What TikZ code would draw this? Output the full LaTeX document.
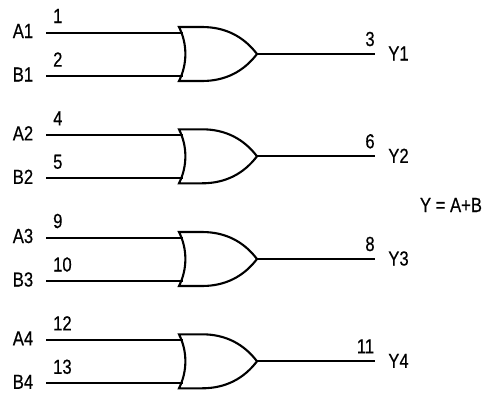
\documentclass[tikz,border=0pt]{standalone}
\usepackage{fontspec}
\setmainfont{Liberation Sans}
\newfontfamily\sigfont[FakeBold=0.5]{Liberation Sans}
\tikzset{
  wire/.style={line width=2.1pt},
  gateshape/.style={line width=2.1pt,line join=miter},
  sig/.style={font=\sigfont\fontsize{18.5}{20}\selectfont,inner sep=0pt,xscale=.9,yscale=1.1},
  pinno/.style={font=\sigfont\fontsize{18.5}{20}\selectfont,inner sep=0pt,xscale=.9,yscale=1.1},
}
\newcommand{\orgate}[9]{%
  % #1 name suffix, #2 y of top of gate, #3 A text, #4 B text, #5 Y text, #6-#8 pin numbers, #9 x of output pin number
  \begin{scope}[shift={(0,#2)}]
    \coordinate (ai#1) at (46,5.8);
    \coordinate (bi#1) at (46,48.8);
    \coordinate (ag#1) at (183,5.8);
    \coordinate (bg#1) at (183,48.8);
    \coordinate (og#1) at (257,27);
    \coordinate (oe#1) at (375,27);
    \draw[gateshape] (179,0) .. controls (187.5,17) and (187.5,37) .. (179,54)
      -- (202,54) .. controls (226,54) and (244,44) .. (og#1)
      .. controls (244,10) and (226,0) .. (202,0) -- cycle;
    \draw[wire] (ai#1) -- (ag#1);
    \draw[wire] (bi#1) -- (bg#1);
    \draw[wire] (og#1) -- (oe#1);
    \node[sig] (la#1) at (23,4) {#3};
    \node[sig] (lb#1) at (23,47.5) {#4};
    \node[sig] (ly#1) at (398.5,26.5) {#5};
    \node[pinno,anchor=west] (pa#1) at (53,-11) {#6};
    \node[pinno,anchor=west] (pb#1) at (53,32.5) {#7};
    \node[pinno] (py#1) at (#9,12) {#8};
  \end{scope}}
\begin{document}
\begin{tikzpicture}[x=1pt,y=-1pt]
\useasboundingbox (0,0) rectangle (487,397);
\fill[white] (0,0) rectangle (487,397);
\orgate{1}{27}{A1}{B1}{Y1}{1}{2}{3}{370}
\orgate{2}{129.3}{A2}{B2}{Y2}{4}{5}{6}{370}
\orgate{3}{232}{A3}{B3}{Y3}{9}{10}{8}{370}
\orgate{4}{334.3}{A4}{B4}{Y4}{12}{13}{11}{365.5}
\node[sig] (eq) at (451,205) {Y = A+B};
\end{tikzpicture}
\end{document}
